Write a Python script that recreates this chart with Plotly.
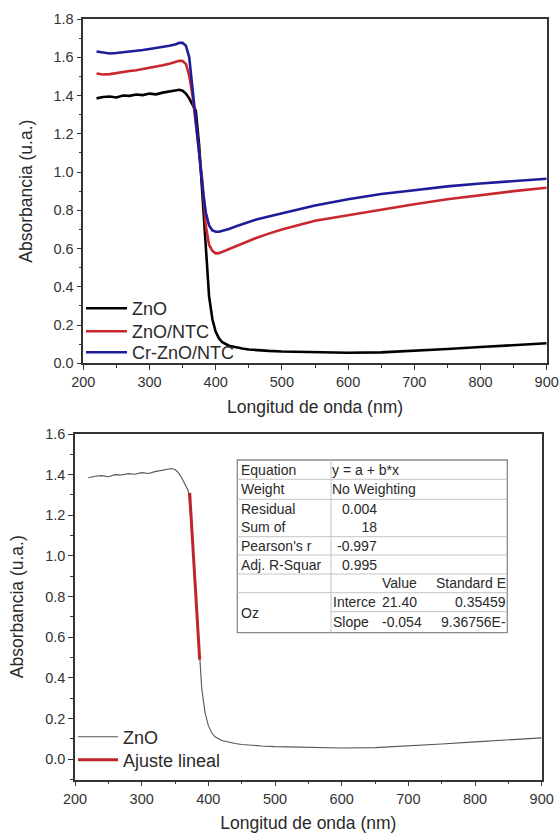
import plotly.graph_objects as go

W, H = 560, 836

# ---------------- data ----------------
wavelength = [220, 230, 240, 250, 260, 270, 280, 290, 300, 310, 320, 330, 340, 345,
              350, 355, 360, 365, 370, 375, 380, 385, 390, 395, 400, 405, 410, 420,
              430, 440, 450, 460, 480, 500, 550, 600, 650, 700, 750, 800, 850, 900]

zno = [1.385, 1.392, 1.395, 1.390, 1.400, 1.398, 1.405, 1.402, 1.410, 1.406, 1.415,
       1.420, 1.428, 1.430, 1.425, 1.410, 1.385, 1.355, 1.320, 1.140, 0.870, 0.590,
       0.350, 0.230, 0.165, 0.130, 0.110, 0.092, 0.083, 0.077, 0.072, 0.069, 0.065,
       0.062, 0.057, 0.055, 0.057, 0.065, 0.075, 0.085, 0.095, 0.105]

zno_ntc = [1.515, 1.510, 1.512, 1.518, 1.522, 1.528, 1.532, 1.538, 1.543, 1.550, 1.558,
           1.566, 1.576, 1.582, 1.580, 1.565, 1.505, 1.400, 1.250, 1.100, 0.950, 0.720,
           0.620, 0.588, 0.575, 0.576, 0.583, 0.597, 0.612, 0.627, 0.641, 0.654, 0.678,
           0.700, 0.745, 0.775, 0.805, 0.832, 0.858, 0.880, 0.900, 0.918]

cr_zno_ntc = [1.630, 1.625, 1.620, 1.622, 1.625, 1.628, 1.633, 1.638, 1.643, 1.648, 1.653,
              1.660, 1.668, 1.675, 1.676, 1.660, 1.600, 1.450, 1.270, 1.100, 0.920, 0.790,
              0.720, 0.695, 0.688, 0.688, 0.692, 0.702, 0.715, 0.727, 0.739, 0.750, 0.768,
              0.785, 0.825, 0.858, 0.885, 0.905, 0.925, 0.940, 0.953, 0.965]

fit_x = [372, 387]
fit_y = [1.31, 0.49]

series_names = ["ZnO", "ZnO/NTC", "Cr-ZnO/NTC"]
bottom_names = ["ZnO", "Ajuste lineal"]

x_ticks = [200, 300, 400, 500, 600, 700, 800, 900]
y_ticks_top = [0.0, 0.2, 0.4, 0.6, 0.8, 1.0, 1.2, 1.4, 1.6, 1.8]
y_ticks_bot = [0.0, 0.2, 0.4, 0.6, 0.8, 1.0, 1.2, 1.4, 1.6]

x_title = "Longitud de onda (nm)"
y_title = "Absorbancia (u.a.)"

# fit table text
tbl_left_labels = ["Equation", "Weight", "Residual<br>Sum of", "Pearson's r", "Adj. R-Squar", "", "Oz"]
tbl_equation = "y = a + b*x"
tbl_weight = "No Weighting"
tbl_rss = "0.004<br>18"
tbl_pearson = "-0.997"
tbl_adjr2 = "0.995"
tbl_header = ["Value", "Standard E"]
tbl_param_names = ["Interce", "Slope"]
tbl_values = ["21.40", "-0.054"]
tbl_errors = ["0.35459", "9.36756E-"]

# ---------------- helpers ----------------
def px(x):
    return x / W

def py(y):
    return 1 - y / H

FONT = "Liberation Sans, Arial, sans-serif"
TXT = "#2a2a2a"

fig = go.Figure()

# top plot (one legend box per entry so the entry spacing matches the original)
colors = ["#000000", "#c8282d", "#1d1d9a"]
top_legends = ["legend", "legend3", "legend4"]
for name, vals, c, lg in zip(series_names, [zno, zno_ntc, cr_zno_ntc], colors, top_legends):
    fig.add_trace(go.Scatter(x=wavelength, y=vals, mode="lines", name=name,
                             line=dict(color=c, width=2.6), xaxis="x", yaxis="y",
                             legend=lg, showlegend=True))

# bottom plot
fig.add_trace(go.Scatter(x=wavelength, y=zno, mode="lines", name=bottom_names[0],
                         line=dict(color="#555555", width=1.1), xaxis="x2", yaxis="y2",
                         legend="legend2", showlegend=True))
fig.add_trace(go.Scatter(x=fit_x, y=fit_y, mode="lines", name=bottom_names[1],
                         line=dict(color="#c0242b", width=3), xaxis="x2", yaxis="y2",
                         legend="legend5", showlegend=True))

axis_common = dict(showline=True, linecolor="#333333", linewidth=1.5, mirror=True,
                   ticks="outside", ticklen=5, tickwidth=1.3, tickcolor="#333333",
                   showgrid=False, zeroline=False, automargin=False,
                   tickfont=dict(family=FONT, size=14.5, color="#333333"),
                   title_font=dict(family=FONT, size=17.5, color=TXT))

def leg(x, top, iw):
    return dict(x=px(x), y=py(top), xanchor="left", yanchor="top",
                bgcolor="rgba(0,0,0,0)", font=dict(family=FONT, size=18, color=TXT),
                itemwidth=iw, tracegroupgap=0, visible=True)

fig.update_layout(
    template="none", showlegend=True,
    width=W, height=H, margin=dict(l=0, r=0, t=0, b=0, pad=0),
    paper_bgcolor="white", plot_bgcolor="white",
    font=dict(family=FONT, color=TXT),
    xaxis=dict(domain=[px(83.3), px(546.7)], range=[200, 900], anchor="y",
               tickvals=x_ticks, title=dict(text=x_title, standoff=11),
               minor=dict(ticks="outside", ticklen=3, dtick=50, tickcolor="#333333", tickwidth=1.2),
               **axis_common),
    yaxis=dict(domain=[py(363.3), py(19)], range=[0, 1.8], anchor="x",
               tickvals=y_ticks_top, tickformat=".1f", title=dict(text=y_title, standoff=16),
               minor=dict(ticks="outside", ticklen=3, dtick=0.1, tickcolor="#333333", tickwidth=1.2),
               **axis_common),
    xaxis2=dict(domain=[px(75), px(541.7)], range=[200, 900], anchor="y2",
                tickvals=x_ticks, title=dict(text=x_title, standoff=11),
                minor=dict(ticks="outside", ticklen=3, dtick=50, tickcolor="#333333", tickwidth=1.2),
                **axis_common),
    yaxis2=dict(domain=[py(779.5), py(434)], range=[-0.1, 1.6], anchor="x2",
                tickvals=y_ticks_bot, tickformat=".1f", title=dict(text=y_title, standoff=17),
                minor=dict(ticks="outside", ticklen=3, dtick=0.1, tick0=-0.1, tickcolor="#333333", tickwidth=1.2),
                **axis_common),
    legend=leg(81, 290, 41),
    legend3=leg(81, 313, 41),
    legend4=leg(81, 334, 41),
    legend2=leg(73, 718.5, 40),
    legend5=leg(73, 741.5, 40),
)

# ---------------- fit table ----------------
tl, tdiv, tr = 237.3, 331, 507.3
rows = [460, 479.3, 499.3, 536.7, 555, 574, 592.7, 611.7, 632.7]
shapes = []
shapes.append(dict(type="rect", xref="paper", yref="paper", x0=px(tl), x1=px(tr),
                   y0=py(rows[-1]), y1=py(rows[0]), line=dict(color="#8a8a8a", width=1.3),
                   fillcolor="white", layer="above"))
for r in rows[1:-1]:
    x0 = tdiv if r == rows[7] else tl
    shapes.append(dict(type="line", xref="paper", yref="paper", x0=px(x0), x1=px(tr),
                       y0=py(r), y1=py(r), line=dict(color="#c4c4c4", width=1)))
shapes.append(dict(type="line", xref="paper", yref="paper", x0=px(tdiv), x1=px(tdiv),
                   y0=py(rows[-1]), y1=py(rows[0]), line=dict(color="#c4c4c4", width=1)))
fig.update_layout(shapes=shapes)

ann = []
def t(text, x, y, anchor="left"):
    dx = -3 if anchor == "left" else 3
    ann.append(dict(text=text, x=px(x + dx), y=py(y), xref="paper", yref="paper",
                    xanchor=anchor, yanchor="middle", showarrow=False,
                    font=dict(family=FONT, size=14, color=TXT), align=anchor))

centers = [(rows[i] + rows[i + 1]) / 2 for i in range(len(rows) - 1)]
label_rows = [centers[0], centers[1], centers[2], centers[3], centers[4], centers[5],
              (rows[6] + rows[8]) / 2]
for lab, yc in zip(tbl_left_labels, label_rows):
    if lab:
        t(lab, 241.5, yc)
t(tbl_equation, 333, centers[0])
t(tbl_weight, 333, centers[1])
t(tbl_rss, 376, centers[2], "right")
t(tbl_pearson, 376, centers[3], "right")
t(tbl_adjr2, 376, centers[4], "right")
t(tbl_header[0], 383, centers[5])
t(tbl_header[1], 505, centers[5], "right")
for i in range(2):
    t(tbl_param_names[i], 334, centers[6 + i])
    t(tbl_values[i], 383, centers[6 + i])
    t(tbl_errors[i], 505, centers[6 + i], "right")
fig.update_layout(annotations=ann)

fig.write_html("out.html")
